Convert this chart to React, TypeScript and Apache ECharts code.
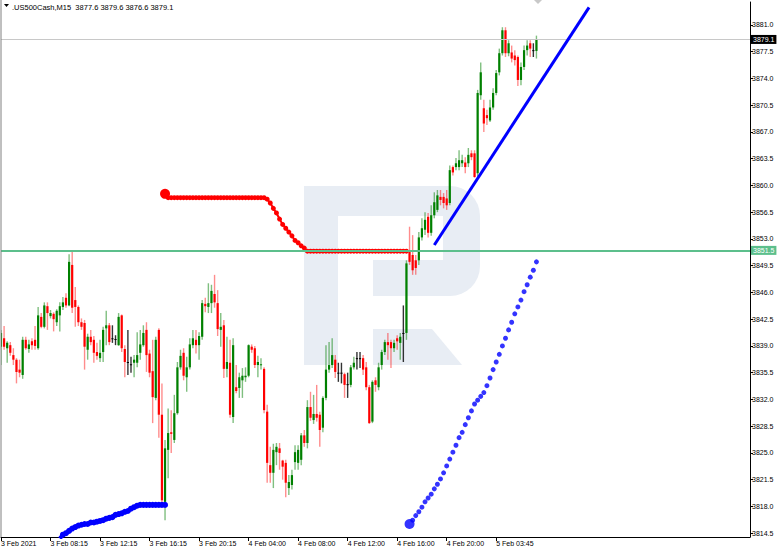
import React, { useEffect, useRef } from "react";
import * as echarts from "echarts";

const headerText = ".US500Cash,M15  3877.6 3879.6 3876.6 3879.1";
const tickLabels = ["3 Feb 2021", "3 Feb 08:15", "3 Feb 12:15", "3 Feb 16:15", "3 Feb 20:15", "4 Feb 04:00", "4 Feb 08:00", "4 Feb 12:00", "4 Feb 16:00", "4 Feb 20:00", "5 Feb 03:45"];
const BARS_PER_TICK = 16;
const SLOT_COUNT = 243;
const yTicks = [3814.5, 3818.0, 3821.5, 3825.0, 3828.5, 3832.0, 3835.5, 3839.0, 3842.5, 3846.0, 3849.5, 3853.0, 3856.5, 3860.0, 3863.5, 3867.0, 3870.5, 3874.0, 3877.5, 3881.0];

// [open, close, low, high]
const ohlc: number[][] = [
  [3838.9, 3840.7, 3836.5, 3841.1], [3840.0, 3838.9, 3838.5, 3841.6], [3838.7, 3839.4, 3836.8, 3839.6], [3839.1, 3838.1, 3837.7, 3839.5], [3837.8, 3837.2, 3836.5, 3838.7],
  [3837.2, 3835.6, 3834.1, 3837.4], [3835.9, 3835.5, 3834.9, 3837.2], [3835.2, 3839.8, 3834.7, 3840.2], [3839.8, 3838.7, 3838.5, 3840.2], [3838.6, 3839.2, 3838.1, 3839.8],
  [3839.6, 3839.1, 3838.5, 3840.0], [3839.8, 3839.0, 3838.5, 3841.6], [3838.7, 3843.0, 3838.5, 3844.1], [3842.8, 3841.5, 3841.3, 3843.3], [3841.5, 3844.3, 3841.3, 3844.7],
  [3844.2, 3843.3, 3841.1, 3844.7], [3842.9, 3843.3, 3842.6, 3843.7], [3843.2, 3842.5, 3840.9, 3843.4], [3842.1, 3843.6, 3841.6, 3843.8], [3843.0, 3844.2, 3840.9, 3844.7],
  [3844.1, 3844.7, 3843.7, 3845.4], [3845.3, 3844.3, 3844.0, 3845.9], [3844.3, 3850.0, 3844.2, 3851.0], [3849.6, 3844.0, 3843.3, 3851.3], [3845.0, 3844.1, 3841.5, 3846.7],
  [3844.1, 3842.1, 3841.6, 3844.3], [3842.1, 3841.5, 3841.1, 3842.6], [3842.0, 3838.9, 3835.9, 3842.4], [3838.5, 3840.2, 3837.2, 3840.6], [3840.2, 3839.5, 3839.1, 3841.1],
  [3839.8, 3838.1, 3836.8, 3840.3], [3838.2, 3837.7, 3837.2, 3839.4], [3837.4, 3838.1, 3836.9, 3839.8], [3838.2, 3841.1, 3836.9, 3841.5], [3841.3, 3841.7, 3839.1, 3843.6],
  [3841.7, 3839.5, 3839.1, 3842.0], [3840.0, 3840.0, 3839.4, 3841.7], [3839.9, 3839.9, 3839.1, 3840.4], [3839.1, 3842.8, 3839.0, 3843.3], [3843.0, 3838.7, 3838.2, 3843.1],
  [3838.6, 3836.9, 3834.9, 3839.1], [3836.9, 3836.9, 3835.2, 3841.1], [3836.6, 3836.6, 3835.5, 3837.6], [3836.8, 3837.2, 3834.9, 3837.8], [3836.8, 3837.8, 3836.2, 3840.8],
  [3838.1, 3839.2, 3837.2, 3841.1], [3839.1, 3840.7, 3838.9, 3841.7], [3841.1, 3837.8, 3835.6, 3842.1], [3838.0, 3835.5, 3834.9, 3838.5], [3835.7, 3832.3, 3828.9, 3839.8],
  [3832.2, 3839.8, 3831.9, 3840.2], [3841.1, 3830.0, 3827.0, 3841.3], [3830.0, 3818.8, 3818.5, 3834.1], [3818.6, 3825.6, 3816.2, 3826.7], [3825.4, 3827.6, 3821.7, 3830.8],
  [3827.7, 3827.5, 3825.0, 3830.6], [3826.7, 3830.2, 3826.3, 3832.6], [3830.2, 3836.2, 3830.0, 3836.9], [3836.2, 3837.7, 3835.9, 3838.5], [3838.1, 3835.1, 3834.5, 3838.7],
  [3834.9, 3836.2, 3833.0, 3837.6], [3836.2, 3839.2, 3835.9, 3840.0], [3839.1, 3840.0, 3838.7, 3841.1], [3839.8, 3839.1, 3838.0, 3841.1], [3839.1, 3840.3, 3837.2, 3840.8],
  [3840.2, 3844.6, 3839.8, 3845.0], [3844.5, 3844.2, 3843.4, 3845.3], [3844.1, 3844.6, 3843.3, 3847.2], [3844.6, 3846.2, 3843.3, 3847.0], [3845.8, 3844.7, 3844.0, 3848.3],
  [3844.6, 3841.2, 3840.3, 3846.3], [3841.1, 3841.5, 3838.9, 3843.3], [3841.7, 3836.0, 3834.8, 3842.4], [3836.0, 3836.9, 3834.9, 3840.2], [3836.8, 3830.0, 3829.6, 3839.8],
  [3829.7, 3839.1, 3828.9, 3840.0], [3833.6, 3833.1, 3832.8, 3836.5], [3833.5, 3834.9, 3832.2, 3835.5], [3834.5, 3835.1, 3832.2, 3836.1], [3834.9, 3835.1, 3834.3, 3836.2],
  [3835.1, 3839.1, 3834.9, 3839.2], [3838.9, 3838.5, 3838.1, 3839.2], [3838.7, 3836.5, 3836.1, 3839.0], [3836.5, 3836.9, 3834.9, 3837.7], [3836.5, 3836.6, 3835.9, 3837.4],
  [3836.0, 3830.6, 3830.2, 3836.2], [3830.4, 3823.7, 3821.1, 3831.3], [3823.4, 3822.4, 3821.1, 3825.8], [3822.4, 3825.4, 3820.4, 3826.2], [3825.1, 3825.8, 3823.4, 3826.3],
  [3825.6, 3825.0, 3822.8, 3826.3], [3824.0, 3823.2, 3821.5, 3824.1], [3823.7, 3821.1, 3819.2, 3824.1], [3820.4, 3821.2, 3819.5, 3822.1], [3820.8, 3822.1, 3820.2, 3822.8],
  [3823.8, 3825.1, 3822.8, 3826.0], [3823.7, 3825.4, 3822.8, 3826.0], [3824.1, 3827.3, 3823.4, 3827.6], [3827.3, 3826.3, 3825.8, 3828.0], [3826.3, 3831.0, 3825.6, 3831.9],
  [3831.0, 3829.6, 3829.2, 3833.0], [3829.3, 3830.1, 3828.8, 3832.6], [3830.1, 3829.6, 3829.1, 3833.9], [3830.0, 3828.0, 3825.8, 3830.4], [3828.3, 3832.2, 3827.7, 3832.4],
  [3832.2, 3835.9, 3831.9, 3839.1], [3835.9, 3836.5, 3835.5, 3839.5], [3836.5, 3837.8, 3836.1, 3840.0], [3837.2, 3835.6, 3834.8, 3837.8], [3835.5, 3835.5, 3834.3, 3836.8],
  [3835.5, 3835.5, 3834.1, 3836.8], [3835.3, 3833.9, 3832.2, 3835.5], [3834.0, 3834.0, 3832.2, 3835.5], [3833.9, 3836.2, 3833.6, 3836.5], [3836.2, 3836.8, 3835.9, 3837.6],
  [3837.4, 3837.4, 3835.9, 3838.2], [3837.4, 3837.4, 3836.1, 3838.2], [3837.4, 3835.9, 3835.2, 3837.8], [3836.2, 3833.6, 3833.2, 3836.9], [3833.6, 3828.9, 3828.8, 3833.9],
  [3829.1, 3834.3, 3828.9, 3834.5], [3834.5, 3833.9, 3833.0, 3834.9], [3833.6, 3836.2, 3833.2, 3836.8], [3836.5, 3838.2, 3835.9, 3838.5], [3838.2, 3839.5, 3837.8, 3839.8],
  [3839.5, 3839.1, 3837.2, 3840.7], [3839.5, 3838.7, 3836.1, 3839.8], [3838.7, 3839.4, 3838.2, 3839.8], [3840.0, 3839.6, 3838.5, 3840.4], [3839.4, 3840.2, 3837.2, 3840.7],
  [3840.7, 3840.7, 3836.9, 3844.3], [3840.7, 3849.8, 3839.8, 3850.2], [3851.3, 3850.0, 3849.6, 3854.6], [3850.9, 3848.9, 3848.3, 3853.5], [3850.2, 3849.2, 3848.3, 3850.9],
  [3850.2, 3853.2, 3849.6, 3853.9], [3853.2, 3854.4, 3852.8, 3855.7], [3854.2, 3855.5, 3853.5, 3856.5], [3855.9, 3853.8, 3853.2, 3856.4], [3853.8, 3856.1, 3853.4, 3857.4],
  [3856.1, 3857.8, 3855.7, 3859.1], [3856.8, 3858.7, 3856.5, 3859.4], [3858.5, 3858.1, 3857.4, 3859.4], [3858.5, 3857.7, 3857.0, 3859.0], [3858.3, 3857.4, 3856.8, 3859.4],
  [3857.7, 3862.0, 3857.4, 3862.6], [3862.4, 3861.7, 3861.3, 3862.6], [3862.4, 3862.9, 3862.0, 3863.6], [3862.4, 3863.3, 3862.0, 3864.6], [3862.9, 3863.3, 3862.4, 3864.0],
  [3863.0, 3862.4, 3861.6, 3863.7], [3862.9, 3864.0, 3862.4, 3864.9], [3864.2, 3863.7, 3863.3, 3864.6], [3864.2, 3861.1, 3861.0, 3864.6], [3861.6, 3872.1, 3861.2, 3872.5],
  [3871.8, 3874.8, 3871.2, 3876.1], [3870.1, 3868.1, 3867.0, 3871.2], [3869.2, 3868.8, 3867.9, 3869.9], [3868.5, 3870.2, 3868.3, 3871.2], [3870.2, 3872.1, 3869.9, 3872.7],
  [3872.1, 3874.7, 3871.8, 3875.1], [3874.8, 3877.3, 3874.4, 3877.9], [3877.3, 3880.3, 3877.0, 3880.7], [3880.3, 3877.3, 3876.8, 3880.7], [3877.3, 3878.6, 3876.9, 3879.0],
  [3877.4, 3876.6, 3876.1, 3878.3], [3877.0, 3876.4, 3875.7, 3877.7], [3876.8, 3873.8, 3873.0, 3877.0], [3873.8, 3875.5, 3873.1, 3876.1], [3875.5, 3877.7, 3875.1, 3878.3],
  [3877.7, 3878.3, 3877.0, 3879.0], [3878.6, 3877.9, 3876.8, 3879.0], [3877.7, 3877.7, 3876.8, 3878.6], [3877.6, 3879.1, 3876.6, 3879.6],
];

const redStart = 53;
const redLine = [
  3858.9, 3858.4, 3858.4, 3858.4, 3858.4, 3858.4, 3858.4, 3858.4, 3858.4, 3858.4,
  3858.4, 3858.4, 3858.4, 3858.4, 3858.4, 3858.4, 3858.4, 3858.4, 3858.4, 3858.4,
  3858.4, 3858.4, 3858.4, 3858.4, 3858.4, 3858.4, 3858.4, 3858.4, 3858.4, 3858.4,
  3858.4, 3858.4, 3858.4, 3858.2, 3857.7, 3857.0, 3856.4, 3855.6, 3854.9, 3854.4,
  3853.9, 3853.4, 3852.8, 3852.5, 3852.1, 3851.8, 3851.4, 3851.4, 3851.4, 3851.4,
  3851.4, 3851.4, 3851.4, 3851.4, 3851.4, 3851.4, 3851.4, 3851.4, 3851.4, 3851.4,
  3851.4, 3851.4, 3851.4, 3851.4, 3851.4, 3851.4, 3851.4, 3851.4, 3851.4, 3851.4,
  3851.4, 3851.4, 3851.4, 3851.4, 3851.4, 3851.4, 3851.4, 3851.4, 3851.4,
];

const blueLineStart = 19;
const blueLine = [
  3813.8, 3814.3, 3814.5, 3814.8, 3815.1, 3815.3, 3815.5, 3815.6, 3815.7, 3815.7,
  3815.9, 3815.9, 3816.0, 3816.1, 3816.2, 3816.4, 3816.5, 3816.6, 3816.9, 3817.0,
  3817.1, 3817.3, 3817.4, 3817.7, 3817.9, 3818.1, 3818.2, 3818.2, 3818.2, 3818.2,
  3818.2, 3818.2, 3818.2, 3818.2, 3818.2,
];

const blueDotsStart = 132;
const blueDots = [
  3815.7, 3816.2, 3816.8, 3817.3, 3817.9, 3818.6, 3819.1, 3819.6, 3820.3, 3820.9,
  3821.6, 3822.4, 3823.3, 3824.2, 3825.1, 3826.0, 3827.0, 3827.7, 3828.7, 3829.6,
  3830.5, 3831.4, 3831.9, 3832.4, 3832.9, 3833.8, 3834.8, 3835.9, 3836.9, 3837.9,
  3839.0, 3840.0, 3841.1, 3842.1, 3843.2, 3844.1, 3845.0, 3846.1, 3847.0, 3848.0,
  3848.9, 3850.0,
];

const lastPrice = 3879.1;
const levelPrice = 3851.5;
const arrowFrom = [140, 3852.2];
const arrowTo = [190, 3883.3];

const FONT = '"Liberation Sans", Arial, sans-serif';
const LOGO = "#e8edf4";

export default function App() {
  const ref = useRef<HTMLDivElement>(null);
  useEffect(() => {
    if (!ref.current) return;
    const chart = echarts.init(ref.current, undefined, { renderer: "svg" });
    const categories = Array.from({ length: SLOT_COUNT }, (_, i) => String(i));
    const showTick = (idx: number) => idx % BARS_PER_TICK === 0 && idx / BARS_PER_TICK < tickLabels.length;
    const candleData = ohlc.map((d, i) => [i, d[0], d[1], d[2], d[3]]);

    const option: any = {
      animation: false,
      backgroundColor: "#ffffff",
      grid: { left: 1, right: 32, top: 2, bottom: 17, containLabel: false, outerBoundsMode: "none" },
      xAxis: {
        type: "category",
        data: categories,
        boundaryGap: false,
        axisLine: { show: true, lineStyle: { color: "#000", width: 1 } },
        axisTick: { show: true, interval: (i: number) => showTick(i), length: 4, lineStyle: { color: "#000" } },
        axisLabel: {
          interval: (i: number) => showTick(i),
          formatter: (_v: string, i: number) => (showTick(i) ? tickLabels[i / BARS_PER_TICK] : ""),
          align: "left",
          fontSize: 7,
          fontFamily: FONT,
          color: "#000",
          margin: 3,
        },
        splitLine: { show: false },
      },
      yAxis: {
        type: "value",
        position: "right",
        min: 3814.0,
        max: 3884.0,
        axisLine: { show: true, lineStyle: { color: "#000", width: 1 } },
        axisTick: { show: true, length: 3, lineStyle: { color: "#000" }, customValues: yTicks },
        axisLabel: {
          customValues: yTicks,
          formatter: (v: number) => v.toFixed(1),
          fontSize: 7,
          fontFamily: FONT,
          color: "#000",
          margin: 2,
        },
        splitLine: { show: false },
      },
      graphic: [
        { type: "rect", z: 0, silent: true, shape: { x: 338, y: 186, width: 142, height: 110, r: [0, 30, 30, 0] }, style: { fill: LOGO } },
        { type: "rect", z: 0, silent: true, shape: { x: 338, y: 216, width: 105, height: 44 }, style: { fill: "#fff" } },
        { type: "rect", z: 0, silent: true, shape: { x: 338, y: 259, width: 35, height: 38 }, style: { fill: "#fff" } },
        { type: "rect", z: 0, silent: true, shape: { x: 304, y: 186, width: 34, height: 179 }, style: { fill: LOGO } },
        { type: "polygon", z: 0, silent: true, shape: { points: [[373, 329], [432, 329], [462, 365], [373, 365]] }, style: { fill: LOGO } },
        { type: "line", z: 10, silent: true, shape: { x1: 1, y1: 0, x2: 1, y2: 537 }, style: { stroke: "#808080", lineWidth: 1 } },
        { type: "polygon", z: 10, silent: true, shape: { points: [[4, 4], [9, 4], [6.5, 7]] }, style: { fill: "#000" } },
        { type: "polygon", z: 10, silent: true, shape: { points: [[534, 0], [542, 0], [538, 4]] }, style: { fill: "#c8c8c8" } },
        { type: "text", z: 10, silent: true, left: 12, top: 3, style: { text: headerText, fontSize: 7.5, fontFamily: FONT, fill: "#000" } },
      ],
      series: [
        {
          type: "custom",
          name: "candles",
          clip: true,
          z: 2,
          data: candleData,
          encode: { x: 0, y: [1, 2, 3, 4] },
          renderItem: (_params: any, api: any) => {
            const idx = api.value(0);
            const o = api.value(1);
            const c = api.value(2);
            const l = api.value(3);
            const h = api.value(4);
            const pO = api.coord([idx, o]);
            const pC = api.coord([idx, c]);
            const pL = api.coord([idx, l]);
            const pH = api.coord([idx, h]);
            const x = pO[0];
            const up = c > o;
            const down = c < o;
            const body = up ? "#008000" : down ? "#ff0000" : "#000000";
            const wick = up ? "rgba(0,128,0,0.5)" : down ? "rgba(255,0,0,0.45)" : "rgba(0,0,0,0.8)";
            const top = Math.min(pO[1], pC[1]);
            const bot = Math.max(pO[1], pC[1]);
            return {
              type: "group",
              children: [
                { type: "line", shape: { x1: x, y1: pH[1], x2: x, y2: pL[1] }, style: { stroke: wick, lineWidth: 1.4 } },
                { type: "rect", shape: { x: x - 1.1, y: top, width: 2.2, height: Math.max(bot - top, 1) }, style: { fill: body } },
              ],
            };
          },
        },
        {
          type: "line",
          name: "levels",
          data: [],
          z: 3,
          silent: true,
          markLine: {
            silent: true,
            symbol: ["none", "none"],
            animation: false,
            data: [
              {
                yAxis: lastPrice,
                lineStyle: { color: "#c8c8c8", width: 1, type: "solid" },
                label: { show: true, position: "end", distance: 1, formatter: lastPrice.toFixed(1), backgroundColor: "#000", color: "#fff", padding: [1, 2, 1, 2], fontSize: 7, fontFamily: FONT },
              },
              {
                yAxis: levelPrice,
                lineStyle: { color: "#5cbf8c", width: 2, type: "solid" },
                label: { show: true, position: "end", distance: 1, formatter: levelPrice.toFixed(1), backgroundColor: "#5cbf8c", color: "#fff", padding: [1, 2, 1, 2], fontSize: 7, fontFamily: FONT },
              },
            ],
          },
        },
        {
          type: "line",
          name: "red",
          z: 4,
          data: redLine.map((v, k) => (k === 0 ? { value: [redStart + k, v], symbolSize: 10 } : [redStart + k, v])),
          showSymbol: true,
          showAllSymbol: true,
          symbol: "circle",
          symbolSize: 5,
          itemStyle: { color: "#ff0000" },
          lineStyle: { color: "#ff0000", width: 2 },
        },
        {
          type: "line",
          name: "blueLine",
          z: 4,
          data: blueLine.map((v, k) => [blueLineStart + k, v]),
          showSymbol: true,
          showAllSymbol: true,
          symbol: "circle",
          symbolSize: 6,
          itemStyle: { color: "#0000ff" },
          lineStyle: { color: "#0000ff", width: 4 },
        },
        {
          type: "scatter",
          name: "blueDots",
          z: 4,
          data: blueDots.map((v, k) => (k === 0 ? { value: [blueDotsStart + k, v], symbolSize: 10 } : [blueDotsStart + k, v])),
          symbol: "circle",
          symbolSize: 5,
          itemStyle: { color: "#0000ff" },
        },
        {
          type: "line",
          name: "arrow",
          data: [],
          z: 5,
          silent: true,
          markLine: {
            silent: true,
            animation: false,
            symbol: ["none", "arrow"],
            symbolSize: [0, 14],
            label: { show: false },
            lineStyle: { color: "#0000ff", width: 3, type: "solid" },
            data: [[{ coord: arrowFrom }, { coord: arrowTo }]],
          },
        },
      ],
    };
    chart.setOption(option);
    return () => chart.dispose();
  }, []);
  return <div ref={ref} style={{ position: "absolute", left: 0, top: 0, width: 782, height: 554 }} />;
}
